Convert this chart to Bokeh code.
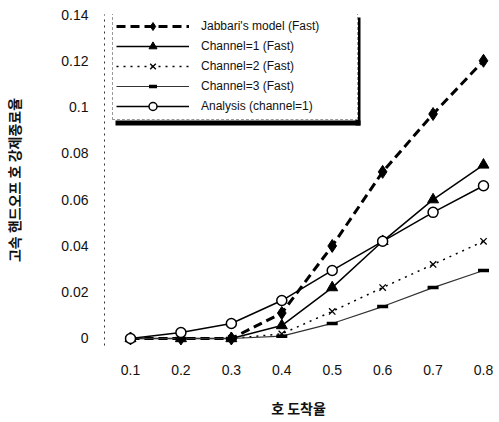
from bokeh.plotting import figure
from bokeh.models import Range1d, FixedTicker, Legend, LegendItem, BoxAnnotation
from bokeh.embed import file_html
from bokeh.resources import INLINE

arrival = [0.1, 0.2, 0.3, 0.4, 0.5, 0.6, 0.7, 0.8]
jabbari = [0.0, 0.0, 0.0, 0.011, 0.040, 0.072, 0.097, 0.120]
channel1 = [0.0, 0.0, 0.0, 0.0056, 0.022, 0.042, 0.060, 0.075]
channel2 = [0.0, 0.0, 0.0, 0.002, 0.0117, 0.022, 0.032, 0.042]
channel3 = [0.0, 0.0, 0.0, 0.001, 0.0065, 0.0138, 0.022, 0.0294]
analysis = [0.0, 0.0026, 0.0065, 0.0164, 0.0294, 0.042, 0.0545, 0.066]

x_ticks = [0.1, 0.2, 0.3, 0.4, 0.5, 0.6, 0.7, 0.8]
y_ticks = [0, 0.02, 0.04, 0.06, 0.08, 0.1, 0.12, 0.14]
y_tick_labels = ["0", "0.02", "0.04", "0.06", "0.08", "0.1", "0.12", "0.14"]
x_title = "호 도착율"
y_title = "고속 핸드오프 호 강제종료율"

W, H = 499, 422
p = figure(width=W, height=H, output_backend="svg", toolbar_location=None,
           min_border_left=104, min_border_right=7, min_border_top=14, min_border_bottom=77)
p.x_range = Range1d(0.04844, 0.81785)
p.y_range = Range1d(-0.003025, 0.14)
p.grid.visible = False
p.outline_line_color = None

font = "Liberation Sans"
p.xaxis.ticker = FixedTicker(ticks=x_ticks)
p.xaxis.major_label_overrides = {t: f"{t:.1f}" for t in x_ticks}
p.yaxis.ticker = FixedTicker(ticks=y_ticks)
p.yaxis.major_label_overrides = dict(zip(y_ticks, y_tick_labels))
for ax in (p.xaxis, p.yaxis):
    ax.major_tick_line_color = None
    ax.minor_tick_line_color = None
    ax.major_label_text_font = font
    ax.major_label_text_font_size = "14px"
    ax.major_label_text_color = "#111111"
    ax.axis_label_text_font = "Noto Sans CJK KR"
    ax.axis_label_text_font_style = "bold"
    ax.axis_label_text_font_size = "14px"
    ax.axis_label_text_color = "#111111"
p.xaxis.axis_line_color = None
p.yaxis.axis_line_color = "#333333"
p.yaxis.axis_line_dash = "2 4"
p.yaxis.axis_line_width = 1
p.xaxis.major_label_standoff = 13
p.yaxis.major_label_standoff = 10
p.xaxis.axis_label = x_title
p.yaxis.axis_label = y_title
p.xaxis.axis_label_standoff = 20
p.yaxis.axis_label_standoff = 34

r1l = p.line(arrival, jabbari, line_color="black", line_width=3, line_dash="9 5")
r1s = p.scatter(arrival, jabbari, marker="diamond", size=13, color="black")
r2l = p.line(arrival, channel1, line_color="black", line_width=1.5)
r2s = p.scatter(arrival, channel1, marker="triangle", size=11, color="black")
r3l = p.line(arrival, channel2, line_color="black", line_width=1.5, line_dash="2 5")
r3s = p.scatter(arrival, channel2, marker="x", size=9, line_color="black", line_width=1.3)
r4l = p.line(arrival, channel3, line_color="#333333", line_width=1.2)
r4s = p.scatter(arrival, channel3, marker="dash", size=11, line_color="black", line_width=3.5)
r5l = p.line(arrival, analysis, line_color="black", line_width=1.5)
r5s = p.scatter(arrival, analysis, marker="circle", size=10, line_color="black",
                fill_color="white", line_width=1.5)

legend = Legend(items=[
    LegendItem(label="Jabbari's model (Fast)", renderers=[r1l, r1s]),
    LegendItem(label="Channel=1 (Fast)", renderers=[r2l, r2s]),
    LegendItem(label="Channel=2 (Fast)", renderers=[r3l, r3s]),
    LegendItem(label="Channel=3 (Fast)", renderers=[r4l, r4s]),
    LegendItem(label="Analysis (channel=1)", renderers=[r5l, r5s]),
], location=(8, 225))
legend.label_text_font = font
legend.label_text_font_size = "12px"
legend.label_text_color = "#111111"
legend.glyph_width = 73
legend.glyph_height = 20
legend.label_height = 20
legend.label_width = 153
legend.spacing = 0
legend.padding = 3
legend.margin = 0
legend.label_standoff = 12
legend.border_line_color = "#333333"
legend.border_line_dash = "2 4"
legend.border_line_width = 1
legend.background_fill_color = "white"
legend.background_fill_alpha = 1.0
p.add_layout(legend)

# legend drop shadow (screen units, frame-relative)
shadow = dict(left_units="screen", right_units="screen", top_units="screen",
              bottom_units="screen", fill_color="black", fill_alpha=1,
              line_color=None, level="overlay")
p.add_layout(BoxAnnotation(left=11, right=256, bottom=220, top=225, **shadow))
p.add_layout(BoxAnnotation(left=251, right=256, bottom=220, top=328, **shadow))

open("out.html", "w").write(file_html(p, INLINE))
